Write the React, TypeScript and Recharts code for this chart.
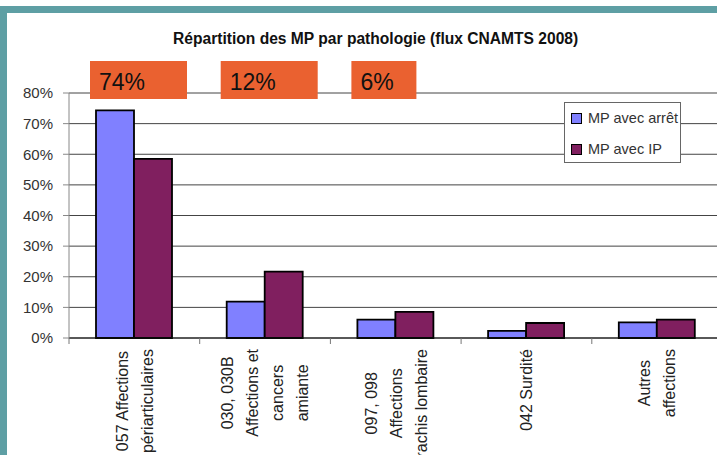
import React from 'react';
import { BarChart, Bar, XAxis, YAxis, CartesianGrid, LabelList } from 'recharts';

// données (flux CNAMTS 2008)
const categories = [
    '057 Affections\npériarticulaires',
    '030, 030B\nAffections et\ncancers\namiante',
    '097, 098\nAffections\nrachis lombaire',
    '042 Surdité',
    'Autres\naffections',
];
const mpAvecArret = [74.3, 11.9, 6.0, 2.3, 5.1];
const mpAvecIP = [58.5, 21.7, 8.5, 4.9, 6.0];
const highlights = ['74%', '12%', '6%', '', ''];
const yTicks = [0, 10, 20, 30, 40, 50, 60, 70, 80];

const seriesNames = ['MP avec arrêt', 'MP avec IP'];
const seriesColors = ['#8080FF', '#801F5F'];

const FONT = '"Liberation Sans", Arial, sans-serif';
const PLOT_LEFT = 69;
const PLOT_RIGHT = 722.5;
const LABEL_TOP = 349;
const LINE_H = 25;
const LABEL_SIZE = 16;

const data = categories.map((name, i) => ({
    name,
    arret: mpAvecArret[i],
    ip: mpAvecIP[i],
    highlight: highlights[i],
}));

let measureCtx: CanvasRenderingContext2D | null = null;
const textWidth = (s: string) => {
    if (!measureCtx) {
        measureCtx = document.createElement('canvas').getContext('2d');
    }
    if (!measureCtx) return s.length * 8;
    measureCtx.font = `${LABEL_SIZE}px ${FONT}`;
    return measureCtx.measureText(s).width;
};

const CategoryTick = (props: any) => {
    const { x, payload } = props;
    const half = (PLOT_RIGHT - PLOT_LEFT) / categories.length / 2;
    const lines: string[] = String(payload.value).split('\n');
    const maxW = Math.max(...lines.map(textWidth));
    const yc = LABEL_TOP + maxW / 2;
    const n = lines.length;
    return (
        <g>
            {/* trait de séparation à gauche de la catégorie */}
            <line x1={x - half} x2={x - half} y1={338} y2={344} stroke="#777" />
            {payload.index === categories.length - 1 && (
                <line x1={x + half} x2={x + half} y1={338} y2={344} stroke="#777" />
            )}
            <g transform={`translate(${x}, ${yc}) rotate(-90)`}>
                {lines.map((l, i) => (
                    <text
                        key={i}
                        x={0}
                        y={(i - (n - 1) / 2) * LINE_H + LABEL_SIZE * 0.36}
                        textAnchor="middle"
                        fontSize={LABEL_SIZE}
                        fontFamily={FONT}
                        fill="#222"
                    >
                        {l}
                    </text>
                ))}
            </g>
        </g>
    );
};

const HighlightBox = (props: any) => {
    const { x, value } = props;
    if (!value) return null;
    const w = 32 * String(value).length + 1;
    return (
        <g>
            <rect x={x - 6} y={61} width={w} height={38} fill="#EA6130" />
            <text x={x + 3} y={90} fontSize={23} fontFamily={FONT} fill="#111">
                {value}
            </text>
        </g>
    );
};

const App = () => {
    return (
        <div style={{ position: 'absolute', left: 0, top: 0, width: 717, height: 455, overflow: 'hidden', background: '#fff' }}>
            <div style={{ position: 'absolute', left: 0, top: 6, width: 717, height: 7, background: '#5E9FA4' }} />
            <div style={{ position: 'absolute', left: 0, top: 6, width: 7, height: 449, background: '#5E9FA4' }} />
            <div
                style={{
                    position: 'absolute',
                    left: 173,
                    top: 30,
                    whiteSpace: 'nowrap',
                    fontFamily: FONT,
                    fontWeight: 'bold',
                    fontSize: 15.6,
                    color: '#111',
                }}
            >
                Répartition des MP par pathologie (flux CNAMTS 2008)
            </div>
            <div style={{ position: 'absolute', left: 0, top: 0 }}>
                <BarChart
                    width={740}
                    height={455}
                    data={data}
                    margin={{ top: 93, right: 17.5, bottom: 0, left: 0 }}
                    barGap={0}
                    barSize={38}
                >
                    <CartesianGrid vertical={false} stroke="#444" />
                    <XAxis
                        dataKey="name"
                        height={117}
                        interval={0}
                        tickLine={false}
                        axisLine={{ stroke: '#111' }}
                        tick={<CategoryTick />}
                    />
                    <YAxis
                        width={69}
                        domain={[0, 80]}
                        ticks={yTicks}
                        interval={0}
                        tickFormatter={(v: number) => `${v}%`}
                        axisLine={{ stroke: '#888' }}
                        tickLine={{ stroke: '#888' }}
                        tickSize={6}
                        tickMargin={10}
                        tick={{ fontSize: 15, fontFamily: FONT, fill: '#333' }}
                    />
                    <Bar dataKey="arret" fill={seriesColors[0]} stroke="#000" strokeWidth={1.8} isAnimationActive={false}>
                        <LabelList dataKey="highlight" content={<HighlightBox />} />
                    </Bar>
                    <Bar dataKey="ip" fill={seriesColors[1]} stroke="#000" strokeWidth={1.8} isAnimationActive={false} />
                </BarChart>
            </div>
            <div
                style={{
                    position: 'absolute',
                    left: 564,
                    top: 102,
                    width: 115,
                    height: 59,
                    border: '1px solid #666',
                    background: '#fff',
                    fontFamily: FONT,
                    fontSize: 14.5,
                    color: '#333',
                }}
            >
                {seriesNames.map((s, i) => (
                    <div key={s} style={{ position: 'absolute', left: 6, top: 7 + i * 31, display: 'flex', alignItems: 'center', whiteSpace: 'nowrap' }}>
                        <span style={{ display: 'inline-block', width: 9, height: 9, border: '1px solid #000', background: seriesColors[i], marginRight: 6 }} />
                        <span>{s}</span>
                    </div>
                ))}
            </div>
        </div>
    );
};

export default App;
